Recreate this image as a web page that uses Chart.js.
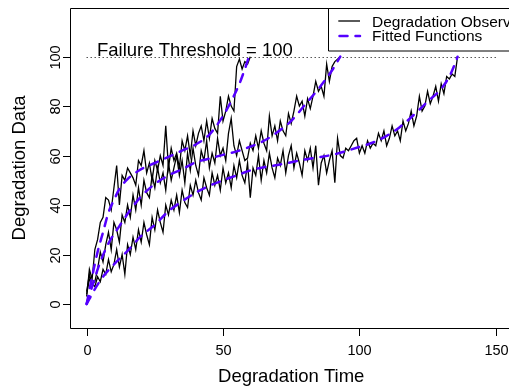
<!DOCTYPE html>
<html>
<head>
<meta charset="utf-8">
<script src="https://cdn.jsdelivr.net/npm/chart.js@4/dist/chart.umd.min.js"></script>
<style>
  html, body { margin: 0; padding: 0; background: #fff; overflow: hidden; }
  #wrap { width: 560px; height: 389px; }
</style>
</head>
<body>
<div id="wrap"><canvas id="deg" width="560" height="389"></canvas></div>
<script>
// Degradation observations, one reading per time unit starting at t = 0
const obsA = [3, 14, 10, 22, 26, 33, 35, 43, 42, 38, 47, 56, 40, 52, 50, 55, 53, 51, 48, 58,
  56, 62, 53, 57, 50, 58, 54, 60, 56, 72, 55, 63, 58, 61, 55, 66, 62, 68, 60, 70,
  64, 69, 72, 66, 74, 67, 75, 71, 69, 84, 74, 78, 84, 80, 78, 96, 99, 95, 98, 97, 100];

const obsB = [4, 10, 8, 9, 14, 21, 17, 24, 29, 22, 33, 30, 25, 36, 33, 40, 35, 44, 38, 47,
  40, 50, 45, 43, 52, 47, 55, 49, 53, 46, 57, 50, 55, 60, 52, 58, 49, 61, 54, 63,
  56, 52, 62, 58, 66, 55, 61, 57, 67, 60, 63, 58, 69, 75, 64, 60, 66, 62, 58, 59,
  65, 62, 68, 63, 70, 65, 62, 76, 68, 72, 66, 74, 70, 68, 77, 73, 78, 84, 80, 82,
  76, 83, 79, 84, 90, 86, 88, 84, 97, 90, 96, 98, 99, 100];

const obsC = [5, 12, 8, 7, 11, 9, 14, 12, 18, 13, 16, 22, 15, 20, 12, 24, 20, 27, 22, 30,
  25, 33, 28, 24, 35, 30, 38, 33, 29, 40, 36, 42, 38, 44, 37, 46, 41, 39, 48, 44,
  50, 45, 42, 51, 47, 44, 53, 48, 52, 46, 55, 49, 53, 47, 56, 51, 58, 52, 49, 57,
  43, 55, 52, 60, 50, 58, 53, 61, 55, 51, 59, 56, 62, 53, 60, 64, 55, 61, 57, 52,
  62, 58, 63, 55, 64, 48, 57, 60, 53, 58, 62, 49, 67, 60, 59, 63, 62, 64, 66, 67,
  61, 64, 61, 66, 63, 65, 64, 69, 66, 70, 64, 67, 72, 68, 70, 66, 74, 70, 73, 78,
  72, 76, 84, 78, 80, 86, 81, 84, 88, 82, 89, 85, 92, 91, 93, 92, 100];

// Fitted degradation functions (time, value)
const fitTimeA = [0, 2, 4, 6, 8, 10, 12, 15, 20, 25, 30, 35, 40, 45, 50, 53, 56, 58, 59.5];
const fitA     = [0, 11, 21, 29, 37, 42, 46.5, 50.5, 54.5, 57, 59.5, 62, 64.5, 68.5, 76, 82, 89, 95, 100];

const fitTimeB = [0, 2, 5, 8, 12, 16, 20, 25, 30, 35, 40, 45, 50, 55, 60, 65, 70, 75, 80, 85, 90, 93];
const fitB     = [0, 7, 17, 24.5, 31.5, 38, 43.5, 48.5, 52, 54.5, 57.3, 58.8, 60.3, 61.7, 63.6, 66, 69.5, 74, 80.5, 87, 94.5, 100];

const fitTimeC = [0, 3, 6, 10, 15, 20, 25, 30, 35, 40, 45, 50, 55, 60, 65, 70, 75, 80, 85, 90,
  95, 100, 105, 110, 115, 120, 125, 130, 133, 135, 136];
const fitC     = [0, 6, 11, 16, 21.5, 27.5, 32, 37.5, 41.5, 45, 47.8, 50, 52, 54, 55.3, 56.2, 57.3, 58.4, 59.3, 60.3,
  61.8, 63.5, 65.3, 68, 71.7, 76.5, 81.8, 87, 92, 97, 100];

const xTicks = [0, 50, 100, 150];
const yTicks = [0, 20, 40, 60, 80, 100];
const threshold = 100;
const thresholdLabel = 'Failure Threshold = 100';
const legendLabels = ['Degradation Observations', 'Fitted Functions'];
const xTitle = 'Degradation Time';
const yTitle = 'Degradation Data';

const FIT_COLOR = '#5500ff';
const FONT = '"Liberation Sans", Arial, Helvetica, sans-serif';

const observed = v => v.map((y, i) => ({ x: i, y }));
const paired = (t, v) => t.map((x, i) => ({ x, y: v[i] }));

const fitStyle = {
  borderColor: FIT_COLOR, borderWidth: 2.5, borderDash: [8, 8], borderCapStyle: 'round',
  pointRadius: 0, showLine: true, fill: false, cubicInterpolationMode: 'monotone'
};
const obsStyle = {
  borderColor: '#000', borderWidth: 1.3, pointRadius: 0, showLine: true, fill: false, tension: 0
};

// Box, axes, threshold and legend drawn on top of the library scales
const frame = {
  id: 'frame',
  beforeDatasetsDraw(chart) {
    const { ctx, scales: { x, y } } = chart;
    const py = Math.round(y.getPixelForValue(threshold)) + 0.5;
    ctx.save();
    ctx.strokeStyle = '#000';
    ctx.lineWidth = 1;
    ctx.setLineDash([1, 3]);
    ctx.beginPath();
    ctx.moveTo(x.getPixelForValue(0), py);
    ctx.lineTo(x.getPixelForValue(150), py);
    ctx.stroke();
    ctx.restore();
  },
  afterDraw(chart) {
    const { ctx, chartArea: a, scales: { x, y } } = chart;
    ctx.save();
    ctx.strokeStyle = '#000';
    ctx.fillStyle = '#000';
    ctx.lineWidth = 1;
    ctx.setLineDash([]);

    // plot box: left, top and bottom sides (the right side sits past the page edge)
    const L = Math.round(a.left) + 0.5, T = Math.round(a.top) + 0.5;
    const R = Math.round(a.right) + 0.5, B = Math.round(a.bottom) + 0.5;
    ctx.beginPath();
    ctx.moveTo(R, T); ctx.lineTo(L, T); ctx.lineTo(L, B); ctx.lineTo(R, B);
    ctx.stroke();

    // x axis ticks and labels
    ctx.font = '14.5px ' + FONT;
    ctx.textAlign = 'center';
    ctx.textBaseline = 'alphabetic';
    xTicks.forEach(v => {
      const px = Math.round(x.getPixelForValue(v)) + 0.5;
      ctx.beginPath(); ctx.moveTo(px, B); ctx.lineTo(px, B + 7.5); ctx.stroke();
      ctx.fillText(String(v), px, B + 26.5);
    });

    // y axis ticks and rotated labels
    yTicks.forEach(v => {
      const py = Math.round(y.getPixelForValue(v)) + 0.5;
      ctx.beginPath(); ctx.moveTo(L, py); ctx.lineTo(L - 7.5, py); ctx.stroke();
      ctx.save();
      ctx.translate(L - 10.5, py);
      ctx.rotate(-Math.PI / 2);
      ctx.fillText(String(v), 0, 0);
      ctx.restore();
    });

    // axis titles
    ctx.font = '18.5px ' + FONT;
    ctx.fillText(xTitle, (a.left + a.right) / 2, 381.5);
    ctx.save();
    ctx.translate(25, (a.top + a.bottom) / 2);
    ctx.rotate(-Math.PI / 2);
    ctx.fillText(yTitle, 0, 0);
    ctx.restore();

    // threshold label
    ctx.textAlign = 'center';
    ctx.fillText(thresholdLabel, x.getPixelForValue(39.7), y.getPixelForValue(threshold) - 0.2);

    // legend: left, top and bottom sides
    const lx = 328.5, ly = T, lw = 240, lh = 42.5;
    ctx.fillStyle = '#fff';
    ctx.fillRect(lx, ly, lw, lh);
    ctx.beginPath();
    ctx.moveTo(lx + lw, ly); ctx.lineTo(lx, ly); ctx.lineTo(lx, ly + lh); ctx.lineTo(lx + lw, ly + lh);
    ctx.stroke();
    ctx.fillStyle = '#000';
    ctx.lineWidth = 1.3;
    ctx.beginPath(); ctx.moveTo(338.3, 21); ctx.lineTo(360, 21); ctx.stroke();
    ctx.strokeStyle = FIT_COLOR;
    ctx.lineWidth = 2.5;
    ctx.lineCap = 'round';
    ctx.setLineDash([8, 8]);
    ctx.beginPath(); ctx.moveTo(339.5, 36); ctx.lineTo(360, 36); ctx.stroke();
    ctx.setLineDash([]);
    ctx.font = '15.5px ' + FONT;
    ctx.textAlign = 'left';
    ctx.fillText(legendLabels[0], 372, 27.3);
    ctx.fillText(legendLabels[1], 372, 41);
    ctx.restore();
  }
};

new Chart(document.getElementById('deg'), {
  type: 'scatter',
  data: {
    datasets: [
      { label: 'Fit A', data: paired(fitTimeA, fitA), ...fitStyle },
      { label: 'Fit B', data: paired(fitTimeB, fitB), ...fitStyle },
      { label: 'Fit C', data: paired(fitTimeC, fitC), ...fitStyle },
      { label: 'Path A', data: observed(obsA), ...obsStyle },
      { label: 'Path B', data: observed(obsB), ...obsStyle },
      { label: 'Path C', data: observed(obsC), ...obsStyle }
    ]
  },
  options: {
    responsive: false,
    devicePixelRatio: 1,
    animation: false,
    layout: { padding: { left: 70.3, top: 7.7, right: 47.9, bottom: 60.8 } },
    scales: {
      x: { type: 'linear', min: -6, max: 156, display: false },
      y: { type: 'linear', min: -9.8, max: 119.8, display: false }
    },
    plugins: { legend: { display: false }, tooltip: { enabled: false } }
  },
  plugins: [frame]
});
</script>
</body>
</html>
